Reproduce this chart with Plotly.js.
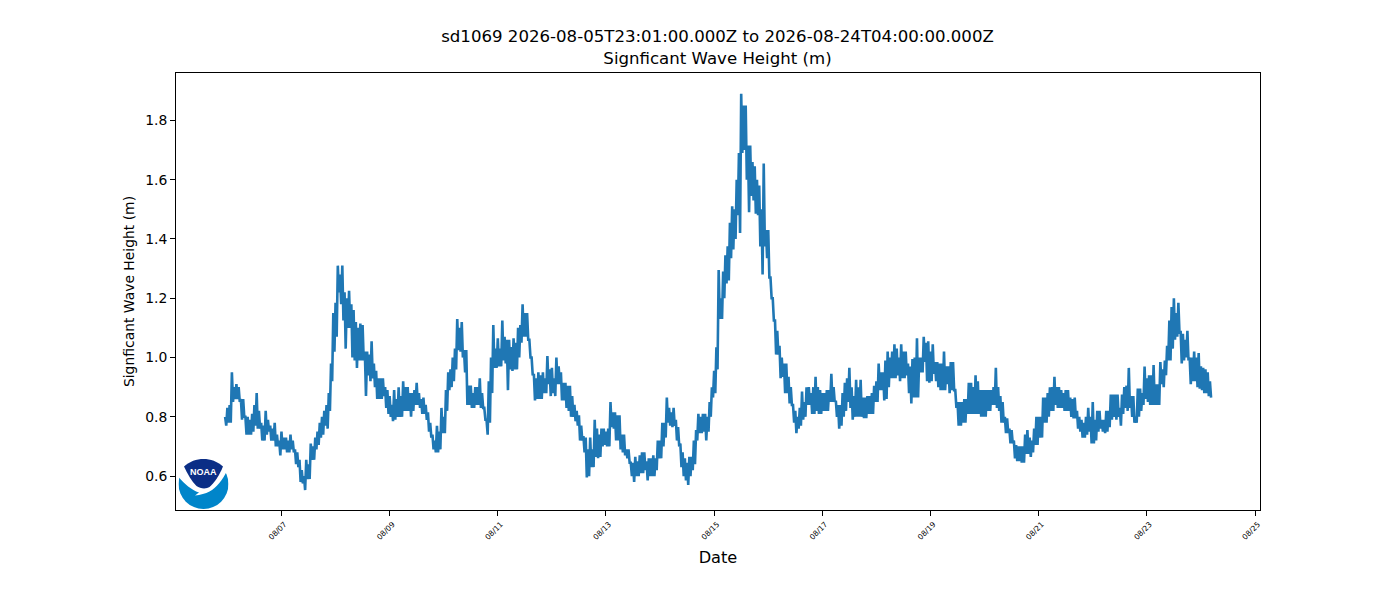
<!DOCTYPE html>
<html>
<head>
<meta charset="utf-8">
<script src="https://cdn.plot.ly/plotly-3.0.1.min.js"></script>
<style>html,body{margin:0;padding:0;background:#fff}</style>
</head>
<body>
<div id="chart" style="width:1400px;height:600px"></div>
<script>
const chartTitle = 'sd1069 2026-08-05T23:01:00.000Z to 2026-08-24T04:00:00.000Z<br>Signficant Wave Height (m)';
const xLabel = 'Date';
const yLabel = 'Signficant Wave Height (m)';
const seriesStart = '2026-08-05T23:00:00Z';
const xRange = ['2026-08-05 01:12', '2026-08-25 02:13'];
const yRange = [0.4856, 1.96];
const xTickVals = ['2026-08-07','2026-08-09','2026-08-11','2026-08-13','2026-08-15','2026-08-17','2026-08-19','2026-08-21','2026-08-23','2026-08-25'];
const xTickText = ['08/07','08/09','08/11','08/13','08/15','08/17','08/19','08/21','08/23','08/25'];
const yTickVals = [0.6,0.8,1.0,1.2,1.4,1.6,1.8];
const yTickText = ['0.6','0.8','1.0','1.2','1.4','1.6','1.8'];
// top and bottom of the noisy trace, hour by hour
const hourlyTop = [
.80,.83,.84,.95,.90,.91,.90,.86,.86,.80,.80,.79,
.81,.84,.88,.82,.78,.77,.82,.79,.77,.76,.78,.74,
.72,.75,.73,.73,.72,.74,.72,.69,.68,.655,.62,.60,
.655,.64,.71,.70,.73,.75,.78,.80,.82,.84,.88,.98,
1.15,1.185,1.31,1.28,1.31,1.22,1.2,1.225,1.18,1.16,1.12,1.10,
1.115,1.11,1.02,1.02,1.01,1.055,.98,.955,.93,.93,.93,.90,
.89,.87,.84,.89,.86,.90,.87,.92,.90,.90,.88,.88,
.89,.915,.88,.86,.865,.84,.815,.78,.74,.72,.77,.75,
.83,.80,.89,.95,.96,1.0,1.03,1.13,1.10,1.12,1.025,1.025,
.905,.905,.88,.90,.90,.93,.88,.83,.79,.92,1.0,1.11,
1.03,1.065,1.03,1.125,1.07,1.06,1.06,1.035,1.065,1.05,1.10,1.11,
1.18,1.15,1.15,1.06,1.0,.945,.93,.95,.94,.95,.93,1.005,
.96,.965,.93,1.0,.97,.95,.915,.915,.905,.905,.87,.84,
.82,.805,.77,.735,.73,.69,.73,.69,.79,.76,.74,.76,
.76,.75,.76,.85,.815,.815,.805,.805,.74,.74,.69,.69,
.645,.645,.665,.65,.67,.68,.68,.65,.66,.66,.67,.66,
.72,.72,.78,.78,.865,.83,.815,.83,.79,.765,.71,.68,
.66,.645,.665,.665,.72,.755,.81,.80,.81,.81,.80,.85,
.90,.955,1.035,1.295,1.2,1.29,1.345,1.375,1.455,1.51,1.50,1.60,
1.69,1.89,1.85,1.85,1.715,1.715,1.66,1.645,1.60,1.58,1.50,1.655,
1.43,1.43,1.27,1.2,1.125,1.09,1.04,1.0,.98,.98,.935,.90,
.84,.82,.80,.83,.885,.85,.90,.90,.88,.90,.935,.90,
.89,.88,.88,.89,.89,.945,.90,.855,.84,.84,.88,.915,
.93,.965,.90,.87,.925,.90,.925,.865,.865,.87,.87,.88,
.905,.92,.98,.95,.95,.99,1.02,1.0,1.02,1.045,1.03,1.0,
1.045,1.02,1.02,.98,.97,.995,1.0,1.065,1.0,1.0,1.07,1.05,
1.055,1.02,1.045,.985,.985,.98,.98,1.02,.97,.97,.985,.985,
.89,.85,.85,.85,.86,.86,.915,.915,.90,.94,.92,.89,
.89,.89,.89,.89,.89,.90,.965,.90,.87,.85,.80,.795,
.76,.755,.72,.705,.70,.70,.70,.74,.755,.73,.72,.76,
.80,.80,.80,.865,.865,.88,.90,.90,.935,.90,.90,.89,
.88,.89,.89,.865,.86,.865,.82,.80,.79,.78,.80,.83,
.80,.85,.79,.82,.82,.79,.79,.82,.82,.875,.875,.875,
.875,.83,.875,.90,.905,.965,.87,.87,.80,.895,.895,.88,
.97,.93,.94,.94,.975,.91,.91,.985,.96,.99,1.04,1.125,
1.17,1.2,1.15,1.185,1.09,1.08,1.06,1.09,1.0,1.0,1.02,1.0,
1.015,.97,.965,.96,.95,.92
];
const hourlyLow = [
.77,.78,.78,.85,.86,.86,.85,.79,.80,.74,.74,.74,
.75,.77,.76,.76,.72,.72,.74,.75,.72,.72,.70,.70,
.67,.69,.69,.68,.68,.69,.68,.64,.63,.58,.575,.553,
.59,.59,.655,.655,.69,.705,.73,.74,.77,.76,.82,.92,
1.02,1.07,1.22,1.18,1.125,1.03,1.10,1.10,1.0,.99,.965,.99,
.99,.99,.87,.94,.92,.93,.90,.86,.86,.86,.87,.83,
.81,.80,.785,.79,.80,.80,.80,.82,.82,.82,.80,.82,
.84,.84,.83,.81,.81,.79,.75,.73,.69,.68,.68,.69,
.745,.745,.82,.89,.90,.92,.96,1.025,1.02,1.0,.95,.84,
.84,.83,.83,.84,.84,.83,.83,.79,.74,.78,.88,.965,
.965,.97,.97,.99,.98,.89,.96,.955,.96,.96,1.0,1.05,
1.07,1.07,1.06,1.0,.94,.855,.86,.86,.86,.88,.88,.91,
.87,.88,.87,.91,.91,.855,.855,.83,.82,.80,.80,.785,
.77,.72,.72,.68,.595,.60,.63,.63,.665,.66,.665,.70,
.705,.70,.70,.765,.76,.72,.72,.69,.68,.67,.66,.645,
.60,.58,.60,.60,.61,.61,.62,.585,.60,.60,.60,.62,
.66,.66,.70,.73,.78,.77,.765,.77,.72,.70,.63,.60,
.585,.57,.60,.62,.64,.72,.745,.745,.75,.72,.75,.80,
.865,.88,.96,1.13,1.13,1.2,1.25,1.26,1.335,1.365,1.40,1.48,
1.42,1.69,1.70,1.60,1.49,1.545,1.53,1.485,1.48,1.375,1.28,1.375,
1.335,1.27,1.2,1.125,1.01,1.01,.93,.935,.88,.88,.845,.84,
.78,.745,.76,.77,.79,.80,.84,.84,.81,.81,.82,.81,
.81,.82,.82,.82,.85,.85,.85,.80,.76,.77,.80,.82,
.85,.83,.79,.80,.80,.80,.80,.795,.795,.81,.81,.81,
.85,.85,.89,.89,.855,.86,.90,.93,.93,.93,.94,.92,
.93,.93,.94,.88,.845,.865,.865,.865,.95,.95,.985,.92,
.915,.92,.945,.92,.90,.89,.89,.89,.91,.88,.89,.89,
.83,.77,.77,.78,.78,.81,.81,.81,.81,.81,.81,.80,
.80,.80,.82,.82,.84,.84,.83,.82,.78,.78,.745,.745,
.71,.71,.66,.65,.65,.645,.645,.675,.675,.665,.68,.705,
.705,.73,.73,.78,.78,.80,.82,.82,.84,.83,.83,.83,
.82,.82,.82,.80,.795,.795,.76,.75,.73,.73,.74,.75,
.71,.71,.72,.75,.76,.75,.745,.75,.765,.79,.80,.79,
.80,.77,.81,.83,.82,.83,.80,.78,.78,.80,.82,.84,
.86,.85,.84,.84,.84,.84,.84,.91,.90,.94,.99,.99,
1.03,1.06,1.07,1.08,.98,.99,1.0,.99,.91,.92,.92,.90,
.895,.89,.88,.88,.87,.865
];

const startMs = Date.parse(seriesStart);
const stamp = ms => new Date(ms).toISOString().replace('T',' ').slice(0,19);
const times = [], waveHeight = [];
hourlyTop.forEach((top, i) => {
  times.push(stamp(startMs + i * 3600000));
  waveHeight.push(top);
  times.push(stamp(startMs + i * 3600000 + 1800000));
  waveHeight.push(hourlyLow[i]);
});

const logoSvg = '<svg xmlns="http://www.w3.org/2000/svg" viewBox="0 0 100 100">' +
  '<circle cx="50" cy="50" r="50" fill="#0085CA"/>' +
  '<path d="M0,0 L100,0 L100,24 L97,24 C88,42 76,58 62,65 C54,69 44,72 33,73 C37,70 40,68 41,67 C26,62 12,50 0,36 Z" fill="#fff"/>' +
  '<path d="M11,15 C22,5 36,0 50,0 C64,0 78,5 89,15 C82,32 72,48 62,56 C56,60 44,60 36,54 C26,44 18,30 11,15 Z" fill="#0B2E86"/>' +
  '</svg>';

const font = 'DejaVu Sans, sans-serif';
const layout = {
  width: 1400, height: 600,
  margin: {l: 175.5, r: 140, t: 72.5, b: 90, pad: 0},
  paper_bgcolor: '#fff', plot_bgcolor: '#fff',
  showlegend: false,
  font: {family: font, color: '#000'},
  title: {text: chartTitle, font: {family: font, size: 16.6, color: '#000'}, x: 0.5125, xanchor: 'center', y: 0.93, yanchor: 'middle'},
  xaxis: {
    type: 'date', range: xRange, tickmode: 'array', tickvals: xTickVals, ticktext: xTickText,
    tickangle: -45, tickfont: {family: font, size: 7.5, color: '#000'},
    ticklabelshift: 3, ticklabelstandoff: 1,
    ticks: 'outside', ticklen: 5, tickwidth: 1, tickcolor: '#000',
    showgrid: false, zeroline: false, showline: true, mirror: true, linecolor: '#000', linewidth: 1,
    title: {text: xLabel, font: {family: font, size: 16.2, color: '#000'}, standoff: 11}
  },
  yaxis: {
    range: yRange, tickmode: 'array', tickvals: yTickVals, ticktext: yTickText,
    tickfont: {family: font, size: 13.9, color: '#000'},
    ticks: 'outside', ticklen: 5, tickwidth: 1, tickcolor: '#000',
    showgrid: false, zeroline: false, showline: true, mirror: true, linecolor: '#000', linewidth: 1,
    title: {text: yLabel, font: {family: font, size: 13.9, color: '#000'}, standoff: 7}
  },
  images: [{
    source: 'data:image/svg+xml;charset=utf-8,' + encodeURIComponent(logoSvg),
    xref: 'paper', yref: 'paper', x: (178-175.5)/1084.5, y: (510-459)/437.5,
    sizex: 50/1084.5, sizey: 50/437.5, xanchor: 'left', yanchor: 'top', sizing: 'stretch', layer: 'above'
  }],
  annotations: [{
    text: '<b>NOAA</b>', xref: 'paper', yref: 'paper', x: (203-175.5)/1084.5, y: (510-472)/437.5,
    showarrow: false, xanchor: 'center', yanchor: 'middle',
    font: {family: 'Liberation Sans, sans-serif', size: 9, color: '#fff'}
  }]
};
Plotly.newPlot('chart', [{
  type: 'scatter', mode: 'lines', x: times, y: waveHeight,
  line: {color: '#1f77b4', width: 2.6}, hoverinfo: 'skip'
}], layout, {displayModeBar: false, staticPlot: true});
</script>
</body>
</html>
